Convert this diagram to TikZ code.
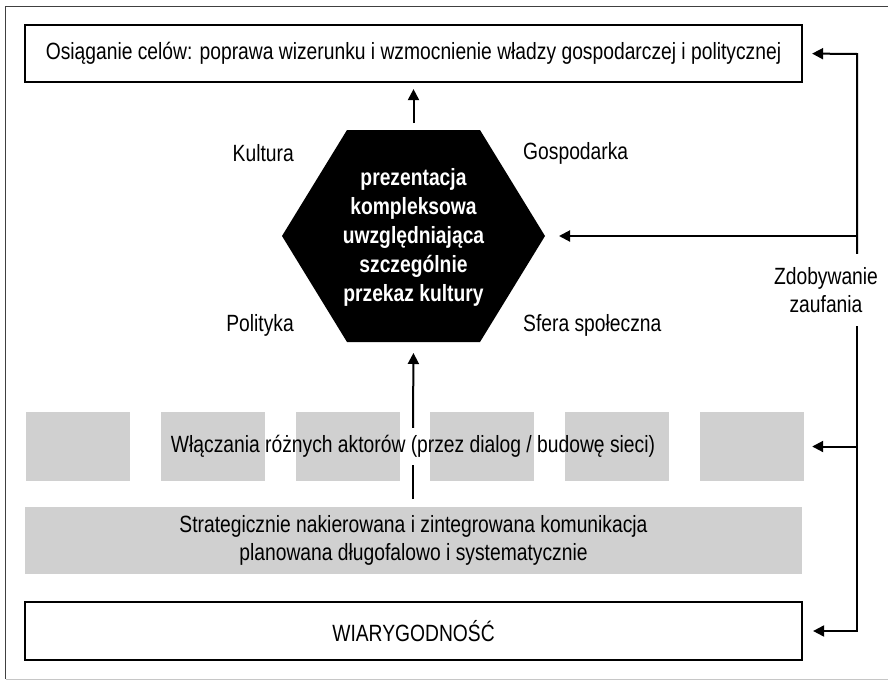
\documentclass[tikz,border=0pt]{standalone}
\usepackage{fontspec}
\setmainfont{Liberation Sans}[FakeStretch=0.82]
\usetikzlibrary{positioning,arrows.meta}

\tikzset{
	kasten/.style = {draw, line width=2.2pt, minimum width=777pt, inner sep=0pt},
	grau/.style = {fill=gray!37, draw=none, inner sep=0pt},
	linie/.style = {line width=2pt},
	pfeil/.style = {line width=2pt, -{Triangle[length=11pt,width=11pt]}},
	txt/.style = {font=\fontsize{23.5}{28}\selectfont, align=center, inner sep=0pt}
}

\begin{document}
\begin{tikzpicture}[x=1pt, y=-1pt]
		\useasboundingbox (0,0) rectangle (888,680);
		\draw[black!75, line width=1pt] (888,6) -- (5.5,6) -- (5.5,679);
		\draw[gray!45, line width=1pt] (5.5,679) -- (888,679);

		\node[kasten, txt, minimum height=57pt] (cele) at (413.5,53.5)
			{Osiąganie celów: poprawa wizerunku i wzmocnienie władzy gospodarczej i politycznej};

		\fill (282,236) -- (347,130) -- (480,130) -- (545,236) -- (480,342) -- (347,342) -- cycle;
		\coordinate (hexN) at (413.5,130);
		\coordinate (hexS) at (413.5,342);
		\coordinate (hexE) at (545,236);
		\node[txt, font=\bfseries\fontsize{23.5}{29}\selectfont, text=white] (hex) at (413.5,237)
			{prezentacja\\kompleksowa\\uwzględniająca\\szczególnie\\przekaz kultury};

		\path	(294,153) node[txt, anchor=east]{Kultura}
				(294,325) node[txt, anchor=east]{Polityka}
				(523,153) node[txt, anchor=west]{Gospodarka}
				(523,325) node[txt, anchor=west]{Sfera społeczna} ;

		\foreach \i in {0,...,5}
			\node[grau, minimum width=104pt, minimum height=69pt] (box\i) at (78+134.8*\i,446.5) {};
		\node[txt, minimum height=37pt] (aktorzy) at (413,446.5)
			{Włączania różnych aktorów (przez dialog / budowę sieci)};

		\node[grau, txt, minimum width=777pt, minimum height=67pt] (strategia) at (413.5,540.5)
			{Strategicznie nakierowana i zintegrowana komunikacja\\planowana długofalowo i systematycznie};
		\coordinate (start) at (413,499);

		\node[kasten, txt, minimum height=58pt] (wiar) at (413.5,631) {WIARYGODNOŚĆ};

		\node[txt, minimum height=72pt] (zauf) at (826,290) {Zdobywanie\\zaufania};
		\coordinate (r1) at (857,54);
		\coordinate (r4) at (857,631);

		\draw[pfeil, shorten <=7pt, shorten >=6pt] (hexN) -- (cele.south);
		\draw[pfeil, shorten >=11pt] (aktorzy.north) -- (hexS);
		\draw[linie] (start) -- (aktorzy.south);

		\draw[pfeil, shorten >=9pt] (r1 |- zauf.north) -- (r1) -- (cele.east);
		\draw[pfeil, shorten >=10pt] (r1 |- zauf.south) -- (r4) -- (wiar.east);
		\draw[pfeil, shorten >=14pt] (r1 |- hexE) -- (hexE);
		\draw[pfeil, shorten >=8pt] (r1 |- box5.east) -- (box5.east);
	\end{tikzpicture}
\end{document}
